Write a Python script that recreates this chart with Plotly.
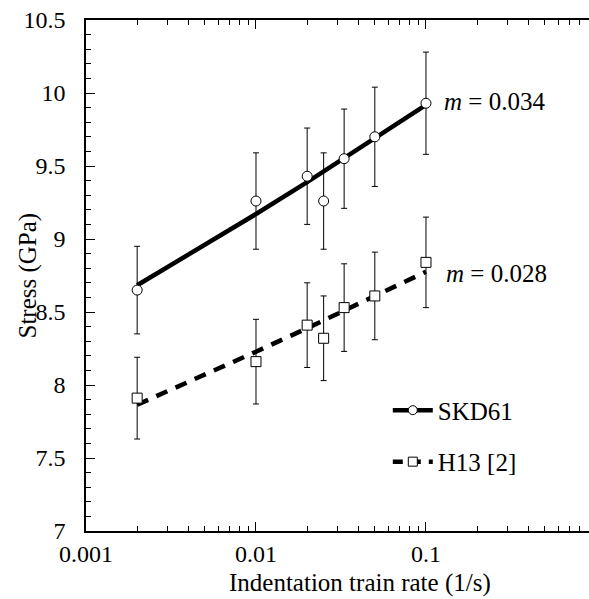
import plotly.graph_objects as go

# ---- data ----
strain_rate = [0.002, 0.01, 0.02, 0.025, 0.033, 0.05, 0.1]
skd61_stress = [8.65, 9.26, 9.43, 9.26, 9.55, 9.70, 9.93]
skd61_err = [0.30, 0.33, 0.33, 0.33, 0.34, 0.34, 0.35]
h13_stress = [7.91, 8.16, 8.41, 8.32, 8.53, 8.61, 8.84]
h13_err = [0.28, 0.29, 0.29, 0.29, 0.30, 0.30, 0.31]

fit_rate = [0.002, 0.005, 0.01, 0.02, 0.05, 0.1]
skd61_fit = [8.683, 8.958, 9.171, 9.390, 9.687, 9.918]
h13_fit = [7.865, 8.070, 8.228, 8.389, 8.607, 8.776]

x_tickvals = [0.001, 0.01, 0.1]
x_ticktext = ["0.001", "0.01", "0.1"]
x_minor = [0.002, 0.003, 0.004, 0.005, 0.006, 0.007, 0.008, 0.009,
           0.02, 0.03, 0.04, 0.05, 0.06, 0.07, 0.08, 0.09,
           0.2, 0.3, 0.4, 0.5, 0.6, 0.7, 0.8, 0.9]
y_tickvals = [7, 7.5, 8, 8.5, 9, 9.5, 10, 10.5]
y_ticktext = ["7", "7.5", "8", "8.5", "9", "9.5", "10", "10.5"]
y_minor = [round(7 + 0.1 * i, 1) for i in range(36)]

FONT = "Liberation Serif"

fig = go.Figure()

# fit lines
fig.add_trace(go.Scatter(x=fit_rate, y=skd61_fit, mode="lines",
                         line=dict(color="black", width=4.5),
                         showlegend=False, hoverinfo="skip"))
fig.add_trace(go.Scatter(x=fit_rate, y=h13_fit, mode="lines",
                         line=dict(color="black", width=4.5, dash="12px,9px"),
                         showlegend=False, hoverinfo="skip"))

# data with error bars
fig.add_trace(go.Scatter(x=strain_rate, y=skd61_stress, mode="markers",
                         marker=dict(symbol="circle", size=10, color="white",
                                     line=dict(color="black", width=1)),
                         error_y=dict(type="data", array=skd61_err, color="black",
                                      thickness=1, width=3),
                         showlegend=False))
fig.add_trace(go.Scatter(x=strain_rate, y=h13_stress, mode="markers",
                         marker=dict(symbol="square", size=10, color="white",
                                     line=dict(color="black", width=1)),
                         error_y=dict(type="data", array=h13_err, color="black",
                                      thickness=1, width=3),
                         showlegend=False))

# legend entries
fig.add_trace(go.Scatter(x=[None], y=[None], mode="lines+markers", name="SKD61",
                         legendgroup="a",
                         line=dict(color="black", width=4.5),
                         marker=dict(symbol="circle", size=9, color="white",
                                     line=dict(color="black", width=1))))
fig.add_trace(go.Scatter(x=[None], y=[None], mode="lines+markers", name="H13 [2]",
                         legendgroup="b",
                         line=dict(color="black", width=4.5, dash="10px,8px"),
                         marker=dict(symbol="square", size=9, color="white",
                                     line=dict(color="black", width=1))))

fig.update_layout(
    width=589, height=599,
    margin=dict(l=86, r=0, t=20, b=68),
    paper_bgcolor="white", plot_bgcolor="white",
    font=dict(family=FONT, size=24, color="black"),
    showlegend=True,
    legend=dict(x=0.60, y=0.281, xanchor="left", yanchor="top",
                bgcolor="rgba(0,0,0,0)", font=dict(size=25, family=FONT),
                tracegroupgap=16, itemwidth=40),
    xaxis=dict(type="log", range=[-3, -0.041],
               tickmode="array", tickvals=x_tickvals, ticktext=x_ticktext,
               ticks="inside", ticklen=9, tickwidth=1, tickcolor="black",
               minor=dict(tickmode="array", tickvals=x_minor, ticks="inside",
                          ticklen=5, tickwidth=1, tickcolor="black", showgrid=False),
               showline=True, linecolor="black", linewidth=1.5, mirror="ticks",
               showgrid=False, zeroline=False,
               tickfont=dict(size=24, family=FONT)),
    yaxis=dict(range=[7, 10.5],
               tickmode="array", tickvals=y_tickvals, ticktext=y_ticktext,
               ticks="inside", ticklen=9, tickwidth=1, tickcolor="black",
               minor=dict(tickmode="array", tickvals=y_minor, ticks="inside",
                          ticklen=5, tickwidth=1, tickcolor="black", showgrid=False),
               showline=True, linecolor="black", linewidth=1.5,
               showgrid=False, zeroline=False, ticklabelstandoff=14,
               tickfont=dict(size=24, family=FONT)),
    yaxis2=dict(range=[7, 10.5], overlaying="y", side="right", anchor="x",
                tickmode="array", tickvals=y_tickvals,
                ticks="inside", ticklen=4, tickwidth=1, tickcolor="black",
                showticklabels=False, showline=False, showgrid=False, zeroline=False),
    annotations=[
        dict(text="<i>m</i> = 0.034", xref="paper", yref="y", x=0.708, y=9.94,
             xanchor="left", yanchor="middle", showarrow=False,
             font=dict(size=25, family=FONT)),
        dict(text="<i>m</i> = 0.028", xref="paper", yref="y", x=0.712, y=8.767,
             xanchor="left", yanchor="middle", showarrow=False,
             font=dict(size=25, family=FONT)),
        dict(text="Indentation train rate (1/s)", xref="paper", yref="paper",
             x=(360 - 86) / 503, y=-(583 - 531) / 511, xanchor="center", yanchor="middle",
             showarrow=False, font=dict(size=25, family=FONT)),
        dict(text="Stress (GPa)", xref="paper", yref="paper",
             x=-(86 - 27) / 503, y=0.5, xanchor="center", yanchor="middle",
             textangle=-90, showarrow=False, font=dict(size=25, family=FONT)),
    ],
)

fig.write_html("out.html",
               config={"displayModeBar": False},
               post_script="document.body.style.margin='0';document.body.style.overflow='hidden';")
